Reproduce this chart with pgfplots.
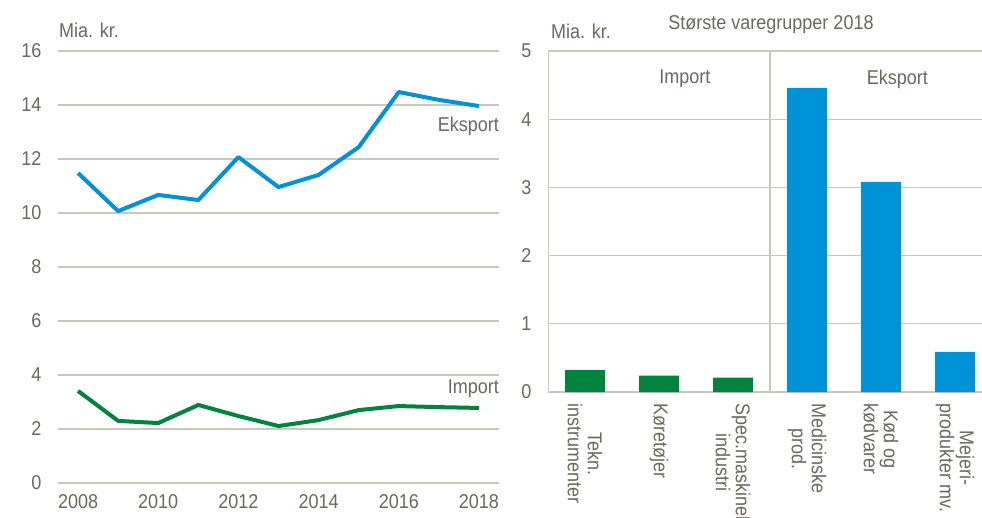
\documentclass[border=0pt]{standalone}
\usepackage{fontspec}
\setmainfont{Liberation Sans}[FakeStretch=0.9]
\usepackage{pgfplots}
\pgfplotsset{compat=1.18}
\definecolor{txt}{RGB}{105,105,95}
\definecolor{gridc}{RGB}{200,200,190}
\definecolor{eblue}{RGB}{0,146,214}
\definecolor{igreen}{RGB}{0,132,61}
\newcommand{\fs}{\fontsize{20}{20}\selectfont}
\begin{document}
\begin{tikzpicture}[x=1pt,y=1pt]
\pgfplotsset{
  common/.style={
    scale only axis, anchor=south west,
    axis line style={draw=none}, major tick length=0pt,
    ymajorgrids, grid style={gridc, line width=1.2pt},
    tick label style={txt, font=\fs},
    /pgf/number format/assume math mode=true,
    /pgf/number format/1000 sep={},
  }
}
\begin{axis}[common, at={(58pt,34pt)}, width=441pt, height=432pt,
  xmin=2007.5, xmax=2018.5, ymin=0, ymax=16,
  xtick={2008,2010,...,2018}, ytick={0,2,...,16},
  xticklabel shift=8pt, yticklabel shift=13pt]
\addplot[eblue, line width=4pt, line join=round] coordinates {
 (2008,11.48) (2009,10.07) (2010,10.67) (2011,10.48) (2012,12.07) (2013,10.96)
 (2014,11.41) (2015,12.44) (2016,14.48) (2017,14.19) (2018,13.96)};
\addplot[igreen, line width=4pt, line join=round] coordinates {
 (2008,3.41) (2009,2.30) (2010,2.22) (2011,2.89) (2012,2.48) (2013,2.11)
 (2014,2.33) (2015,2.70) (2016,2.85) (2017,2.81) (2018,2.78)};
\node[anchor=east, inner sep=0, txt, font=\fs] at (axis cs:2018.5,13.22) {Eksport};
\node[anchor=east, inner sep=0, txt, font=\fs] at (axis cs:2018.5,3.48) {Import};
\end{axis}
\begin{axis}[common, at={(548pt,125pt)}, width=434pt, height=341pt,
  xmin=-0.5, xmax=5.365, ymin=0, ymax=5,
  xtick={0,...,5}, ytick={0,...,5},
  xticklabels={{Tekn.\\instrumenter},{Køretøjer},{Spec.maskinel\\industri},{Medicinske\\prod.},{Kød og\\kødvarer},{Mejeri-\\produkter mv.}},
  xticklabel style={rotate=-90, anchor=west, align=center},
  xticklabel shift=8pt, yticklabel shift=13pt,
  ybar, bar width=40pt]
\draw[gridc, line width=1.2pt] (axis cs:-0.5,0) -- (axis cs:-0.5,5);
\draw[gridc, line width=1.2pt] (axis cs:2.5,0) -- (axis cs:2.5,5);
\addplot[fill=igreen, draw=none, bar shift=0pt] coordinates {(0,0.32) (1,0.24) (2,0.21)};
\addplot[fill=eblue, draw=none, bar shift=0pt] coordinates {(3,4.46) (4,3.08) (5,0.59)};
\node[inner sep=0, txt, font=\fs] at (axis cs:1.35,4.59) {Import};
\node[inner sep=0, txt, font=\fs] at (axis cs:4.22,4.59) {Eksport};
\end{axis}
\node[anchor=west, inner sep=0, txt, font=\fs] at (59pt,487pt) {Mia. kr.};
\node[anchor=west, inner sep=0, txt, font=\fs] at (551pt,486pt) {Mia. kr.};
\node[inner sep=0, txt, font=\fs] at (771pt,492pt) {Største varegrupper 2018};
\pgfresetboundingbox
\path[use as bounding box] (0pt,0pt) rectangle (982pt,517pt);
\end{tikzpicture}
\end{document}
